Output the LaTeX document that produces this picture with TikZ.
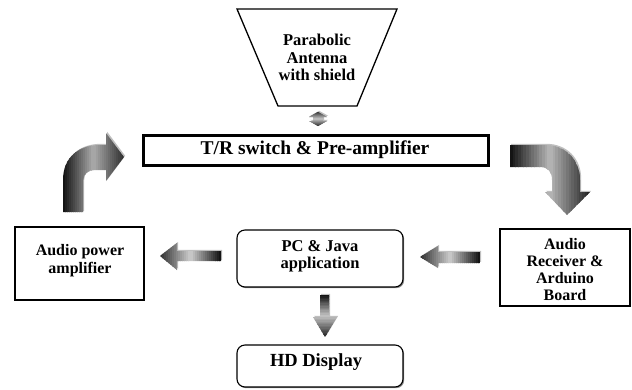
\documentclass[tikz,border=0pt]{standalone}
\usepackage{fontspec}
\setmainfont{Liberation Serif}
\usetikzlibrary{shadows}

% outlines of the block arrows
\def\upArrowPath{(63,212) -- (63,180) .. controls (63,158) and (78,145) .. (100,145) -- (106,145)
  -- (106,133) -- (124,157) -- (106,181) -- (106,170) -- (95,170)
  .. controls (88,170) and (83,174) .. (83,181) -- (83,212) -- cycle}
\def\downArrowPath{(510,145) -- (545,145) .. controls (566,145) and (580,160) .. (580,180) -- (580,192)
  -- (590,192) -- (567,215) -- (545,192) -- (552,192) -- (552,180)
  .. controls (552,172) and (548,167) .. (540,167) -- (510,167) -- cycle}
\def\pcAmpPath{(160,256) -- (177,243) -- (177,251) -- (221,251) -- (221,261) -- (177,261) -- (177,270) -- cycle}
\def\ardPcPath{(420,257) -- (438,246) -- (438,252) -- (480,252) -- (480,263) -- (438,263) -- (438,268) -- cycle}
\def\pcHdPath{(320,295) -- (329,295) -- (329,317) -- (337,317) -- (325,337) -- (313,317) -- (320,317) -- cycle}
\def\dblPath{(309,117) -- (318,112) -- (327,117) -- (323,117) -- (323,121) -- (327,121)
  -- (318,126) -- (309,121) -- (313,121) -- (313,117) -- cycle}

% three-colour banded gradient inside a closed path
% #1 path, #2 axis (x or y), #3 start, #4 end, #5 #6 #7 colours
\newcommand\bandfill[7]{%
  \begin{scope}
    \colorlet{bandA}{#5}\colorlet{bandB}{#6}\colorlet{bandC}{#7}%
    \clip #1;
    \foreach \i in {0,...,29}{
      \pgfmathsetmacro\ta{#3+(#4-#3)*\i/30}
      \pgfmathsetmacro\tb{#3+(#4-#3)*(\i+1.3)/30}
      \pgfmathsetmacro\m{\i<15 ? (\i/14*100) : ((\i-15)/14*100)}
      \ifnum\i<15 \colorlet{bandc}{bandB!\m!bandA}\else\colorlet{bandc}{bandC!\m!bandB}\fi
      \if x#2
        \fill[bandc] (\ta,-50) rectangle (\tb,450);
      \else
        \fill[bandc] (-50,\ta) rectangle (700,\tb);
      \fi
    }
  \end{scope}}

\begin{document}
\begin{tikzpicture}[x=1pt,y=-1pt,
  lbl/.style={font=\bfseries\fontsize{16.5}{17.5}\selectfont, align=center, inner sep=0pt},
  sbox/.style={draw, line width=1.4pt, fill=white,
    drop shadow={shadow xshift=1.2pt, shadow yshift=-1.2pt, fill=black!45, opacity=1}},
  rbox/.style={sbox, rounded corners=8pt, line width=1.1pt},
  arrowshadow/.style={fill=black!25, shift={(1.2pt,1.2pt)}},
]
\useasboundingbox (0,0) rectangle (632,389);

% antenna
\draw[line width=1.3pt, fill=white] (237,9) -- (397,9) -- (357,106) -- (278,106) -- cycle;
\node[lbl] (ant) at (317,57.5) {Parabolic\\Antenna\\with shield};

% T/R switch
\node[sbox, line width=2.4pt, minimum width=345pt, minimum height=30pt,
      drop shadow={shadow xshift=1.6pt, shadow yshift=-1.6pt, fill=black!45}] (tr) at (316,150.5) {};
\node[lbl, font=\bfseries\fontsize{19.5}{20}\selectfont] (trl) at (315,150) {T/R switch \& Pre-amplifier};

% side boxes
\node[sbox, minimum width=129pt, minimum height=73pt] (amp) at (79.5,263.5) {};
\node[lbl, font=\bfseries\fontsize{16}{18.5}\selectfont] (ampl) at (80,260.5) {Audio power\\amplifier};

\node[sbox, minimum width=130pt, minimum height=77pt] (ard) at (565,267.5) {};
\node[lbl, font=\bfseries\fontsize{16}{16.8}\selectfont] (ardl) at (565,269.5) {Audio\\Receiver \&\\Arduino\\Board};

\node[rbox, minimum width=166pt, minimum height=57pt] (pc) at (320,258.5) {};
\node[lbl] (pcl) at (320,256.5) {PC \& Java\\application};

\node[rbox, minimum width=166pt, minimum height=42pt] (hd) at (320,366) {};
\node[lbl, font=\bfseries\fontsize{18.5}{20}\selectfont] (hdl) at (316,362) {HD Display};

% block arrows: soft shadow first, then the graded body
\foreach \p in {\dblPath,\upArrowPath,\downArrowPath,\pcAmpPath,\ardPcPath,\pcHdPath}
  \fill[arrowshadow] \p;

\bandfill{\dblPath}{y}{112}{126}{black!80}{gray!45}{black!80}
\bandfill{\upArrowPath}{x}{63}{124}{black!92}{gray!70}{black!80}
\bandfill{\downArrowPath}{x}{510}{590}{black!92}{gray!60}{black!85}
\bandfill{\pcAmpPath}{x}{160}{221}{black!80}{gray!45}{black!92}
\bandfill{\ardPcPath}{x}{420}{480}{black!80}{gray!45}{black!92}
\bandfill{\pcHdPath}{y}{295}{337}{black!92}{gray!50}{black!85}
\end{tikzpicture}
\end{document}
